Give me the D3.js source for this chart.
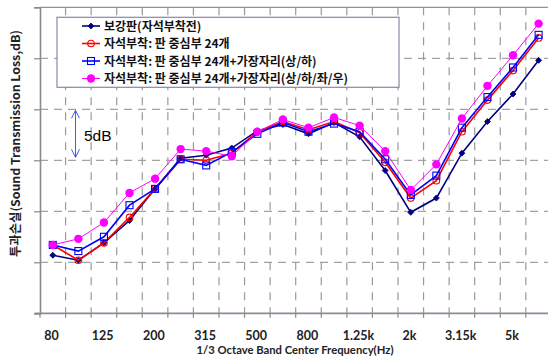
<!DOCTYPE html>
<html>
<head>
<meta charset="utf-8">
<script src="https://cdn.jsdelivr.net/npm/d3@7"></script>
<style>
  html, body { margin: 0; padding: 0; background: #fff; }
  svg { display: block; }
</style>
</head>
<body>
<svg id="chart" width="548" height="356"></svg>
<script>
// ---- data ----
const categories = ["80","100","125","160","200","250","315","400","500","630","800","1000","1.25k","1.6k","2k","2.5k","3.15k","4k","5k","6.3k"];
const tickLabels = ["80","125","200","315","500","800","1.25k","2k","3.15k","5k"];
const seriesNames = [
  "보강판(자석부착전)",
  "자석부착: 판 중심부 24개",
  "자석부착: 판 중심부 24개+가장자리(상/하)",
  "자석부착: 판 중심부 24개+가장자리(상/하/좌/우)"
];
const baseline   = [15.7,15.2,16.9,19.1,22.2,25.2,25.5,26.2,27.9,28.5,27.6,28.7,27.3,24.0,19.9,21.3,25.7,28.8,31.5,34.8];
const center24   = [16.7,15.2,16.9,19.4,22.2,25.1,25.0,25.7,27.8,28.8,28.0,28.8,27.7,24.8,21.3,23.0,27.8,30.9,33.8,37.0];
const edgeTB     = [16.7,16.1,17.5,20.6,22.2,25.1,24.5,25.8,27.6,28.7,27.8,28.6,27.8,25.1,21.6,23.5,28.2,31.2,34.1,37.3];
const edgeAll    = [16.7,17.3,18.9,21.8,23.2,26.1,25.9,25.4,27.8,29.0,28.2,29.2,28.4,25.9,22.1,24.6,29.1,32.3,35.3,38.4];
const yTicks = [10,15,20,25,30,35,40];

const series = [
  {name: seriesNames[0], values: baseline, color: "#000080", width: 1.6, marker: "diamond"},
  {name: seriesNames[1], values: center24, color: "#ff0000", width: 1.6, marker: "ocircle"},
  {name: seriesNames[2], values: edgeTB,   color: "#0000ff", width: 1.6, marker: "osquare"},
  {name: seriesNames[3], values: edgeAll,  color: "#ff00ff", width: 1.0, marker: "fcircle"}
];

// ---- layout ----
const svg = d3.select("#chart");
const pLeft = 40, pTop = 7.3, pBottom = 313.3, bandW = 25.57;
const pRight = pLeft + bandW * categories.length;

const x = d3.scaleBand().domain(categories).range([pLeft, pRight]).padding(0);
const y = d3.scaleLinear().domain([10, 40]).range([pBottom, pTop]);

const g = svg.append("g");

// horizontal dashed gridlines
g.selectAll(".hgrid").data(yTicks.filter(t => t > 10 && t < 40)).enter()
  .append("line")
  .attr("x1", pLeft).attr("x2", 548)
  .attr("y1", d => y(d)).attr("y2", d => y(d))
  .attr("stroke", "#8c8c8c").attr("stroke-width", 1)
  .attr("stroke-dasharray", "8,6");

// vertical dashed gridlines at band boundaries
const bounds = categories.slice(1).map(c => x(c));
g.selectAll(".vgrid").data(bounds).enter()
  .append("line")
  .attr("x1", d => d).attr("x2", d => d)
  .attr("y1", pTop).attr("y2", pBottom)
  .attr("stroke", "#9a9a9a").attr("stroke-width", 1.2)
  .attr("stroke-dasharray", "8,7");

// top border
g.append("line").attr("x1", pLeft).attr("x2", 548).attr("y1", pTop).attr("y2", pTop)
  .attr("stroke", "#9090a8").attr("stroke-width", 1.2);

// y axis (ticks only, no labels)
const yAxis = d3.axisLeft(y).tickValues(yTicks).tickSize(6).tickFormat("");
const ya = g.append("g").attr("transform", `translate(${pLeft},0)`).call(yAxis);
ya.select(".domain").attr("stroke", "#8a8a8a").attr("stroke-width", 1.6);
ya.selectAll(".tick line").attr("stroke", "#8a8a8a").attr("stroke-width", 1.2);

// x axis: ticks at boundaries, labels on every other category
const xAxis = d3.axisBottom(x).tickSize(0).tickFormat(d => tickLabels.includes(d) ? d : "");
const xa = g.append("g").attr("transform", `translate(0,${pBottom})`).call(xAxis);
xa.select(".domain").remove();
xa.selectAll(".tick text")
  .attr("dy", 0).attr("y", 26.5).attr("dx", -1.2)
  .attr("font-family", "Lato, 'Open Sans', sans-serif")
  .attr("font-weight", "bold").attr("font-size", "12.5px").attr("fill", "#222");
g.append("line").attr("x1", pLeft - 5).attr("x2", 548).attr("y1", pBottom).attr("y2", pBottom)
  .attr("stroke", "#8a8a9a").attr("stroke-width", 1.8);
g.selectAll(".xtick").data([pLeft].concat(bounds)).enter()
  .append("line")
  .attr("x1", d => d).attr("x2", d => d)
  .attr("y1", pBottom).attr("y2", pBottom + 4.5)
  .attr("stroke", "#8a8a8a").attr("stroke-width", 1.2);

// axis titles
svg.append("text")
  .attr("x", 295).attr("y", 353.5).attr("text-anchor", "middle")
  .attr("font-family", "Lato, 'Open Sans', sans-serif")
  .attr("font-weight", "bold").attr("font-size", "12px").attr("fill", "#222")
  .attr("textLength", 197).attr("lengthAdjust", "spacingAndGlyphs")
  .text("1/3 Octave Band Center Frequency(Hz)");

svg.append("text")
  .attr("transform", "translate(19.5,143.5) rotate(-90)")
  .attr("text-anchor", "middle")
  .attr("font-family", "'Noto Sans CJK KR', sans-serif")
  .attr("font-weight", "bold").attr("font-size", "12px").attr("fill", "#222")
  .attr("textLength", 227).attr("lengthAdjust", "spacingAndGlyphs")
  .text("투과손실(Sound Transmission Loss,dB)");

// 5dB annotation
const arrowColor = "#3d5cff";
const ax = 75.5, ay1 = y(30) + 1, ay2 = y(25) - 3;
svg.append("line").attr("x1", ax).attr("x2", ax).attr("y1", ay1).attr("y2", ay2)
  .attr("stroke", arrowColor).attr("stroke-width", 1);
svg.append("path").attr("d", `M${ax-4},${ay1+8} L${ax},${ay1} L${ax+4},${ay1+8}`)
  .attr("fill", "none").attr("stroke", arrowColor).attr("stroke-width", 1);
svg.append("path").attr("d", `M${ax-4},${ay2-8} L${ax},${ay2} L${ax+4},${ay2-8}`)
  .attr("fill", "none").attr("stroke", arrowColor).attr("stroke-width", 1);
svg.append("text").attr("x", 84).attr("y", 140.5)
  .attr("font-family", "'Liberation Sans', Arial, sans-serif")
  .attr("font-size", "15.5px").attr("fill", "#000").text("5dB");

// series
const line = d3.line().x((d, i) => x(categories[i]) + x.bandwidth() / 2).y(d => y(d));

function drawMarker(sel, s, cx, cy) {
  if (s.marker === "diamond") {
    sel.append("path").attr("d", `M${cx},${cy-3} L${cx+3},${cy} L${cx},${cy+3} L${cx-3},${cy} Z`)
      .attr("fill", s.color).attr("stroke", s.color).attr("stroke-width", 0.8);
  } else if (s.marker === "ocircle") {
    sel.append("circle").attr("cx", cx).attr("cy", cy).attr("r", 3.3)
      .attr("fill", "none").attr("stroke", s.color).attr("stroke-width", 1.1);
  } else if (s.marker === "osquare") {
    sel.append("rect").attr("x", cx - 3.5).attr("y", cy - 3.5).attr("width", 7).attr("height", 7)
      .attr("fill", "none").attr("stroke", s.color).attr("stroke-width", 1.1);
  } else {
    sel.append("circle").attr("cx", cx).attr("cy", cy).attr("r", 4.2)
      .attr("fill", s.color);
  }
}

series.forEach(s => {
  const sg = svg.append("g");
  sg.append("path").datum(s.values).attr("d", line)
    .attr("fill", "none").attr("stroke", s.color).attr("stroke-width", s.width);
  s.values.forEach((v, i) => drawMarker(sg, s, x(categories[i]) + x.bandwidth() / 2, y(v)));
});

// legend
const lg = svg.append("g");
lg.append("rect").attr("x", 57).attr("y", 17.3).attr("width", 342).attr("height", 70)
  .attr("fill", "#fff").attr("stroke", "#8888a8").attr("stroke-width", 1.2);
const rowY = [26, 43.5, 61, 78.5];
series.forEach((s, i) => {
  const ry = rowY[i];
  lg.append("line").attr("x1", 82).attr("x2", 100).attr("y1", ry).attr("y2", ry)
    .attr("stroke", s.color).attr("stroke-width", s.width);
  drawMarker(lg, s, 91, ry);
  lg.append("text").attr("x", 104).attr("y", ry + 4.5)
    .attr("font-family", "'Noto Sans CJK KR', sans-serif")
    .attr("font-weight", "bold").attr("font-size", "12px").attr("fill", "#111")
    .text(s.name);
});
</script>
</body>
</html>
